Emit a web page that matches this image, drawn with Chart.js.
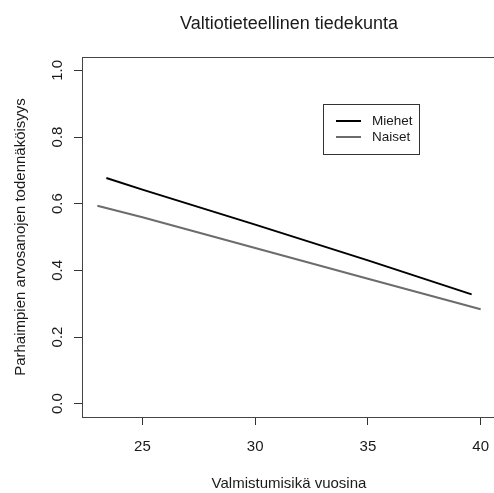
<!DOCTYPE html>
<html>
<head>
<meta charset="utf-8">
<script src="https://cdn.jsdelivr.net/npm/chart.js@4.4.1/dist/chart.umd.min.js"></script>
<style>
  html, body { margin: 0; padding: 0; background: #fff; overflow: hidden; }
  #wrap { position: absolute; left: 0; top: 0; width: 500px; height: 493px; }
</style>
</head>
<body>
<div id="wrap"><canvas id="c" width="500" height="493"></canvas></div>
<script>
// Fitted probability of top grades by graduation age, per sex
const chartTitle = 'Valtiotieteellinen tiedekunta';
const xTitle = 'Valmistumisikä vuosina';
const yTitle = 'Parhaimpien arvosanojen todennäköisyys';
const seriesNames = ['Miehet', 'Naiset'];

const ageMen = [23.4, 25.0, 30.0, 35.0, 39.6];
const probMen = [0.677, 0.642, 0.537, 0.430, 0.328];
const ageWomen = [23.0, 25.0, 30.0, 35.0, 40.0];
const probWomen = [0.594, 0.559, 0.467, 0.375, 0.283];

const xTicks = [25, 30, 35, 40];
const yTicks = [0.0, 0.2, 0.4, 0.6, 0.8, 1.0];

const FONT = '"Liberation Sans", Arial, sans-serif';
const TEXT = '#1a1a1a';
const colors = ['#000000', '#6c6c6c'];

function pts(xs, ys) { return xs.map((x, i) => ({ x: x, y: ys[i] })); }

// R-style frame, rotated y labels, titles and boxed legend
const frame = {
  id: 'frame',
  afterDraw(chart) {
    const ctx = chart.ctx;
    const a = chart.chartArea;
    const xs = chart.scales.x, ys = chart.scales.y;
    ctx.save();
    ctx.strokeStyle = '#444';
    ctx.lineWidth = 1;
    ctx.strokeRect(a.left + 0.5, a.top + 0.5, a.right - a.left, a.bottom - a.top);

    ctx.fillStyle = TEXT;
    ctx.font = '15px ' + FONT;
    ctx.textAlign = 'center';
    ctx.textBaseline = 'alphabetic';
    xTicks.forEach(v => ctx.fillText(String(v), xs.getPixelForValue(v), 451));
    ctx.fillText(xTitle, (a.left + a.right) / 2, 488);

    yTicks.forEach(v => {
      ctx.save();
      ctx.translate(61.5, ys.getPixelForValue(v));
      ctx.rotate(-Math.PI / 2);
      ctx.fillText(v.toFixed(1), 0, 0);
      ctx.restore();
    });
    ctx.save();
    ctx.translate(24.5, (a.top + a.bottom) / 2);
    ctx.rotate(-Math.PI / 2);
    ctx.fillText(yTitle, 0, 0);
    ctx.restore();

    ctx.font = '18px ' + FONT;
    ctx.fillText(chartTitle, (a.left + a.right) / 2, 28.5);

    // legend
    ctx.strokeStyle = '#333';
    ctx.lineWidth = 1;
    ctx.strokeRect(323.5, 104.5, 96, 50);
    ctx.font = '13.5px ' + FONT;
    ctx.textAlign = 'left';
    ctx.textBaseline = 'middle';
    chart.data.datasets.forEach((ds, i) => {
      const y = 121 + i * 16;
      ctx.strokeStyle = ds.borderColor;
      ctx.lineWidth = 2;
      ctx.beginPath();
      ctx.moveTo(336, y);
      ctx.lineTo(361, y);
      ctx.stroke();
      ctx.fillStyle = TEXT;
      ctx.fillText(ds.label, 372, y);
    });
    ctx.restore();
  }
};

new Chart(document.getElementById('c'), {
  type: 'line',
  data: {
    datasets: [
      { label: seriesNames[0], data: pts(ageMen, probMen), borderColor: colors[0], borderWidth: 2, pointRadius: 0, tension: 0 },
      { label: seriesNames[1], data: pts(ageWomen, probWomen), borderColor: colors[1], borderWidth: 2, pointRadius: 0, tension: 0 }
    ]
  },
  options: {
    responsive: false,
    animation: false,
    devicePixelRatio: 1,
    layout: { padding: { top: 57, right: 4, left: 0, bottom: 0 } },
    plugins: { legend: { display: false }, title: { display: false }, tooltip: { enabled: false } },
    scales: {
      x: {
        type: 'linear', min: 22.32, max: 40.68,
        afterBuildTicks: s => { s.ticks = xTicks.map(v => ({ value: v })); },
        afterFit: s => { s.height = 76; },
        ticks: { display: false },
        border: { display: false },
        grid: { drawOnChartArea: false, drawTicks: true, tickLength: 8, color: '#333', lineWidth: 1 }
      },
      y: {
        type: 'linear', min: -0.04, max: 1.04,
        afterBuildTicks: s => { s.ticks = yTicks.map(v => ({ value: v })); },
        afterFit: s => { s.width = 82; },
        ticks: { display: false },
        border: { display: false },
        grid: { drawOnChartArea: false, drawTicks: true, tickLength: 8, color: '#333', lineWidth: 1 }
      }
    }
  },
  plugins: [frame]
});
</script>
</body>
</html>
